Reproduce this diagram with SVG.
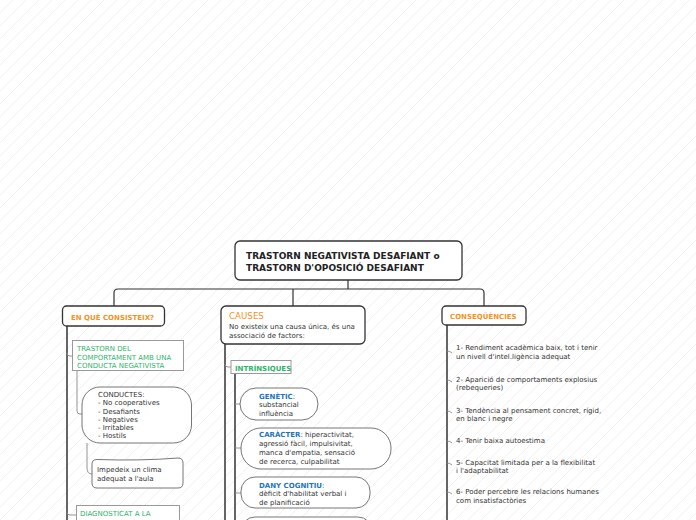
<svg xmlns="http://www.w3.org/2000/svg" width="696" height="520" viewBox="0 0 696 520">
<defs>
<pattern id="hatch" patternUnits="userSpaceOnUse" width="13" height="13">
<path d="M0,13 L13,0 M-2,2 L2,-2 M11,15 L15,11" stroke="#ececec" stroke-width="0.8"/>
</pattern>
<style>
text{font-family:"DejaVu Sans",Verdana,sans-serif;font-size:7px;fill:#333}
.title{font-size:9px;font-weight:bold;fill:#222}
.org{fill:#f5921e;font-weight:bold}
.orgn{fill:#f5921e;font-size:8.7px}
.grn{fill:#2fb36a}
.grnb{fill:#2fb36a;font-weight:bold}
.blu{fill:#1c75bc;font-weight:bold}
.main{fill:#fff;stroke:#333;stroke-width:1.3}
.sub{fill:#fff;stroke:#999;stroke-width:1}
.bub{fill:#fff;stroke:#666;stroke-width:0.9}
.cn{fill:none;stroke:#333;stroke-width:1.2}
.cs{fill:none;stroke:#888;stroke-width:0.9}
.cd{fill:none;stroke:#555;stroke-width:1.8}
</style>
</defs>
<rect width="696" height="520" fill="#fff"/>
<rect width="696" height="520" fill="url(#hatch)"/>
<g id="connectors">
<path class="cn" d="M348,280 V289 M114,306 V293 Q114,289 118,289 H480 Q484,289 484,293 V306 M293,289 V306"/>
<path class="cd" d="M67,326 V520"/>
<path class="cs" d="M67,353 Q67,356 70,356 H72"/>
<path class="cs" d="M77,370 V411 Q77,414 80,414 H82"/>
<path class="cs" d="M87,443 V468 Q87,474 92,474"/>
<path class="cs" d="M67,512 Q67,515 70,515 H76"/>
<path class="cd" d="M225,344 V520"/>
<path class="cs" d="M225,364 Q225,367 228,367 H231"/>
<path class="cd" d="M235,374 V520"/>
<path class="cs" d="M235,404 H240 M235,448 H241 M235,493 H241"/>
<path class="cd" d="M447,325 V520"/>
<path class="cs" d="M447,351 q3,0 5,2 M447,380 q3,0 5,2 M447,411 q3,0 5,2 M447,441 q3,0 5,2 M447,463 q3,0 5,2 M447,492 q3,0 5,2"/>
</g>
<g id="root">
<rect class="main" x="235" y="241" width="227" height="39" rx="5" stroke-width="1.5"/>
<text class="title" x="246" y="259">TRASTORN NEGATIVISTA DESAFIANT o</text>
<text class="title" x="246" y="271">TRASTORN D'OPOSICIÓ DESAFIANT</text>
</g>
<g id="enque">
<rect class="main" x="62.5" y="306" width="102" height="20" rx="4"/>
<text class="org" x="71" y="319.5">EN QUÈ CONSISTEIX?</text>
</g>
<g id="trastorn-del">
<rect class="sub" x="72.5" y="340.5" width="111" height="30"/>
<text class="grn" x="77" y="350.5">TRASTORN DEL</text>
<text class="grn" x="77" y="359.5">COMPORTAMENT AMB UNA</text>
<text class="grn" x="77" y="367.5">CONDUCTA NEGATIVISTA</text>
</g>
<g id="conductes">
<rect class="bub" x="82" y="387" width="109.5" height="56" rx="18"/>
<text x="98" y="396.5">CONDUCTES:</text>
<text x="98" y="405">- No cooperatives</text>
<text x="98" y="413.5">- Desafiants</text>
<text x="98" y="421.5">- Negatives</text>
<text x="98" y="429.5">- Irritables</text>
<text x="98" y="438">- Hostils</text>
</g>
<g id="impedeix">
<path class="bub" d="M97,459.5 Q140,461 178,458 Q183,458 183,463 V483 Q183,488 178,488 H97 Q92,488 92,483 V464 Q92,459.5 97,459.5 Z"/>
<text x="97" y="471.5">Impedeix un clima</text>
<text x="97" y="480.5">adequat a l'aula</text>
</g>
<g id="diagnosticat">
<rect class="sub" x="76.5" y="505.5" width="103" height="30"/>
<text class="grn" x="80" y="515.5">DIAGNOSTICAT A LA</text>
</g>
<g id="causes">
<rect class="main" x="221" y="306" width="144" height="38" rx="5"/>
<text class="orgn" x="229" y="319">CAUSES</text>
<text x="229" y="328.5">No existeix una causa única, és una</text>
<text x="229" y="337.5">associació de factors:</text>
</g>
<g id="intrinsiques">
<rect class="sub" x="231" y="360.5" width="60" height="13"/>
<text class="grnb" x="235" y="370.5">INTRÍNSIQUES</text>
</g>
<g id="genetic">
<rect class="bub" x="240" y="388" width="78" height="32" rx="16"/>
<text x="259" y="398.5"><tspan class="blu">GENÈTIC</tspan>:</text>
<text x="259" y="406.5">substancial</text>
<text x="259" y="415.5">influència</text>
</g>
<g id="caracter">
<rect class="bub" x="241" y="428" width="150" height="41" rx="20"/>
<text x="259" y="437"><tspan class="blu">CARÀCTER</tspan>: hiperactivitat,</text>
<text x="259" y="446">agressió fàcil, impulsivitat,</text>
<text x="259" y="455">manca d'empatia, sensació</text>
<text x="259" y="464">de recerca, culpabilitat</text>
</g>
<g id="dany">
<rect class="bub" x="241" y="477" width="129" height="31" rx="14"/>
<text x="259" y="487.5"><tspan class="blu">DANY COGNITIU</tspan>:</text>
<text x="259" y="496">dèficit d'habilitat verbal i</text>
<text x="259" y="504.5">de planificació</text>
</g>
<g id="next-cause">
<rect class="bub" x="241" y="517" width="131" height="30" rx="14"/>
</g>
<g id="consequencies">
<rect class="main" x="442" y="306" width="84" height="19" rx="4"/>
<text class="org" x="450" y="319">CONSEQÜÈNCIES</text>
<text x="456" y="349.5">1- Rendiment acadèmica baix, tot i tenir</text>
<text x="456" y="359">un nivell d'intel.ligència adequat</text>
<text x="456" y="381.5">2- Aparició de comportaments explosius</text>
<text x="456" y="390">(rebequeries)</text>
<text x="456" y="412.5">3- Tendència al pensament concret, rígid,</text>
<text x="456" y="421">en blanc i negre</text>
<text x="456" y="442.5">4- Tenir baixa autoestima</text>
<text x="456" y="464.5">5- Capacitat limitada per a la flexibilitat</text>
<text x="456" y="472.5">i l'adaptabilitat</text>
<text x="456" y="493.5">6- Poder percebre les relacions humanes</text>
<text x="456" y="502.5">com insatisfactòries</text>
</g>
</svg>
